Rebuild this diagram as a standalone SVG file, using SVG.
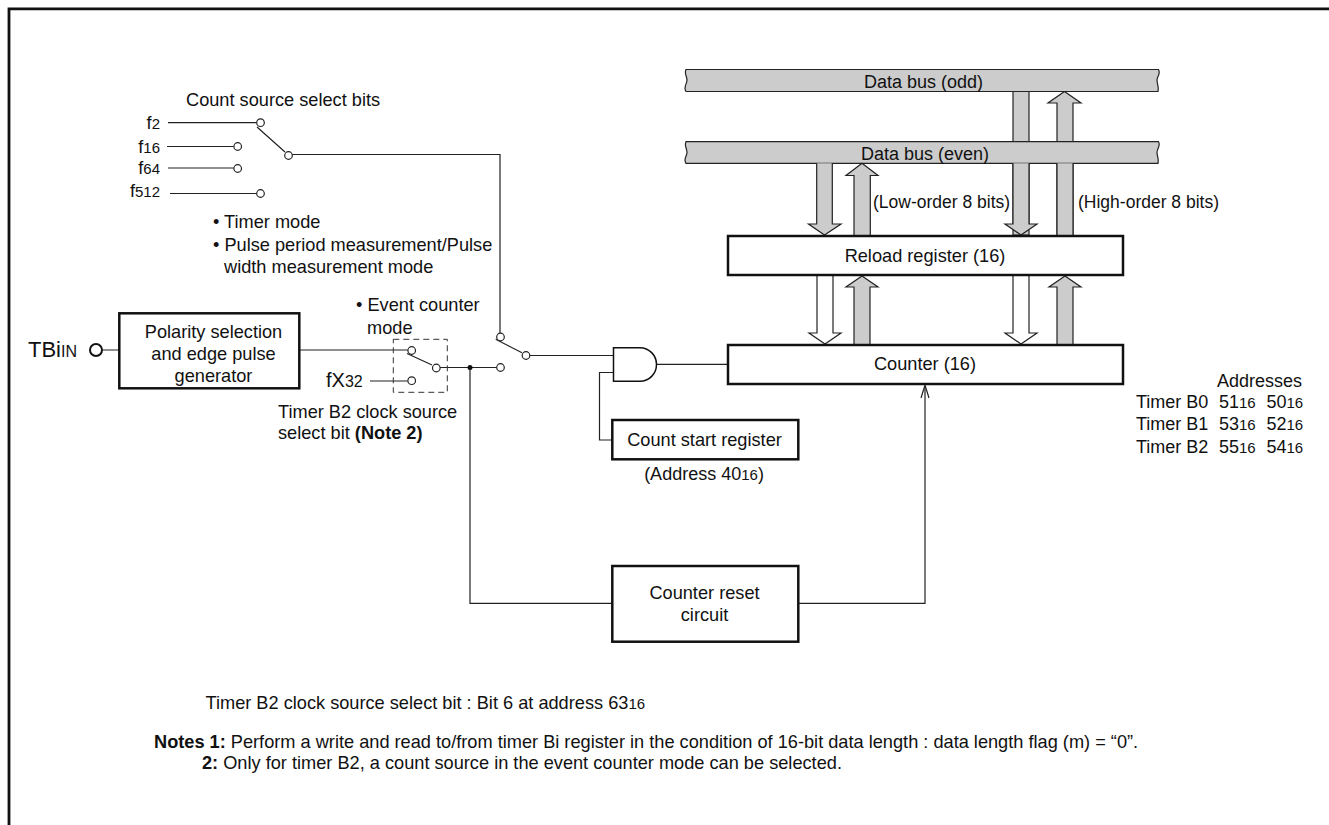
<svg xmlns="http://www.w3.org/2000/svg" width="1329" height="825" viewBox="0 0 1329 825">
<style>
text{font-family:"Liberation Sans",Arial,sans-serif;font-size:18.2px;fill:#111}
.s{font-size:15px}
.b{font-weight:bold}
.m{text-anchor:middle}
.e{text-anchor:end}
.n{font-size:17.5px}
.a{font-size:18px}
.w{fill:none;stroke:#222;stroke-width:1.2}
.box{fill:#fff;stroke:#111;stroke-width:2.5}
.c{fill:#fff;stroke:#222;stroke-width:1.2}
.g{fill:#ccc;stroke:#222;stroke-width:1.2}
.o{fill:#fff;stroke:#222;stroke-width:1.2}
</style>
<rect width="1329" height="825" fill="#fff"/>
<path id="frame" d="M9 825V8.800H1329" fill="none" stroke="#111" stroke-width="2.800"/>
<g id="connectors">
<path class="w" d="M168 122.700H256.500M257 127L285 152M292 154.500H500V333M167 146.500H233.700M168 168H233.700M170 193.500H256.500"/>
<path class="w" d="M103 350H119M299 350H407.700M407 353.500L432 365M440 367.500H496.500M370 381H407.700"/>
<path class="w" d="M495.700 339.300L522 352.700M530 355.500H613.500M656 364.300H728M613.500 372.500H599.500V440H612"/>
<path class="w" d="M470 367.500V603.300H612M798 603.300H925V386"/>
<path d="M921 398L925 385L929 398" fill="none" stroke="#222" stroke-width="1.200"/>
<circle cx="470" cy="367.500" r="2.500" fill="#111"/>
<rect x="393.300" y="339.300" width="54" height="53" fill="none" stroke="#333" stroke-width="1" stroke-dasharray="6 4"/>
<g class="c">
<circle cx="260.500" cy="122.700" r="3.800"/><circle cx="237.700" cy="146.500" r="3.800"/><circle cx="237.700" cy="168.500" r="3.800"/><circle cx="260.500" cy="193.500" r="3.800"/><circle cx="288.500" cy="155.500" r="3.800"/>
<circle cx="411.700" cy="350.500" r="3.800"/><circle cx="436.300" cy="368" r="3.800"/><circle cx="411.700" cy="380.700" r="3.800"/>
<circle cx="500.500" cy="337" r="3.800"/><circle cx="526" cy="355.500" r="3.800"/><circle cx="500.500" cy="367.500" r="3.800"/>
</g>
<circle cx="96" cy="350" r="6" fill="#fff" stroke="#111" stroke-width="2"/>
</g>
<g id="bus-arrows">
<path class="g" d="M1013 91.500V235H1029V91.500Z"/>
<path class="g" d="M1057 103H1048L1064.500 91.500L1081 103H1073V236H1057Z"/>
</g>
<g id="bus-odd">
<path class="g" d="M686 69.500H1158.500C1161 74 1157 76 1157 80C1157 84 1159 87 1158 91.500H686C683 87 687 84 687 80C687 76 684 74 686 69.500Z"/>
<text class="m a" x="923.500" y="87.500">Data bus (odd)</text>
</g>
<g id="bus-even">
<path class="g" d="M686 141.700H1158.500C1161 146 1157 148 1157 152.500C1157 156 1159 159 1158 163.300H686C683 159 687 156 687 152.500C687 148 684 146 686 141.700Z"/>
<text class="m a" x="925" y="160">Data bus (even)</text>
</g>
<g id="arrows">
<path class="g" d="M1013 163.300V224H1005L1021 235L1037 224H1029V163.300"/>
<path class="g" d="M1057 163.300V236H1073V163.300"/>
<path class="g" d="M816.700 163.300V224H808.500L824.500 235L841 224H832.300V163.300"/>
<path class="g" d="M854 236V175.500H846L862 163.300L878 175.500H870.300V236Z"/>
<path class="o" d="M817 276V333H809L825 344L841 333H833V276"/>
<path class="g" d="M854 345V287H846L862 276L878 287H870V345Z"/>
<path class="o" d="M1013 276V333H1005L1021 344L1037 333H1029V276"/>
<path class="g" d="M1057 345V287H1049L1065 276L1081 287H1073V345Z"/>
</g>
<g id="reload-register">
<rect class="box" x="728" y="236" width="395" height="39"/>
<text class="m" x="925" y="261.500">Reload register (16)</text>
</g>
<g id="counter">
<rect class="box" x="728" y="345" width="395" height="39"/>
<text class="m" x="925" y="370">Counter (16)</text>
</g>
<g id="and-gate">
<path d="M613.500 347.700H640A16.500 16.800 0 0 1 640 381.300H613.500Z" fill="#fff" stroke="#111" stroke-width="1.500"/>
</g>
<g id="count-start-register">
<rect class="box" x="612.300" y="420" width="186" height="39.300"/>
<text class="m" x="704.500" y="446">Count start register</text>
</g>
<g id="counter-reset-circuit">
<rect class="box" x="612.300" y="566" width="186" height="75.700"/>
<text class="m" x="704.500" y="599.300">Counter reset</text>
<text class="m" x="704.500" y="621">circuit</text>
</g>
<g id="polarity-selection">
<rect class="box" x="119.300" y="313.300" width="180" height="75"/>
<text class="m" x="213.500" y="338">Polarity selection</text>
<text class="m" x="213.500" y="360">and edge pulse</text>
<text class="m" x="213.500" y="381.700">generator</text>
</g>
<g id="labels">
<text x="186" y="105.700">Count source select bits</text>
<text class="e" x="160" y="129">f<tspan class="s">2</tspan></text>
<text class="e" x="160" y="152.700">f<tspan class="s">16</tspan></text>
<text class="e" x="160" y="174">f<tspan class="s">64</tspan></text>
<text class="e" x="160" y="197">f<tspan class="s">512</tspan></text>
<text x="213" y="227.700">• Timer mode</text>
<text x="213" y="251">• Pulse period measurement/Pulse</text>
<text x="224" y="272.700">width measurement mode</text>
<text x="356" y="311">• Event counter</text>
<text x="367" y="334">mode</text>
<text x="28" y="357" style="font-size:22px">TBi<tspan style="font-size:16px">IN</tspan></text>
<text x="326" y="387" style="font-size:20px">fX<tspan class="s" style="font-size:16px">32</tspan></text>
<text x="278" y="417.700">Timer B2 clock source</text>
<text x="278" y="438.500">select bit <tspan class="b">(Note 2)</tspan></text>
<text class="m a" x="704" y="480">(Address 40<tspan class="s">16</tspan>)</text>
<text class="n" x="873" y="208">(Low-order 8 bits)</text>
<text class="n" x="1078" y="208">(High-order 8 bits)</text>
<text class="e a" x="1302" y="386.700">Addresses</text>
<text class="a" x="1136" y="408">Timer B0</text><text class="a" x="1219" y="408">51<tspan class="s">16</tspan></text><text class="a" x="1266.500" y="408">50<tspan class="s">16</tspan></text>
<text class="a" x="1136" y="430">Timer B1</text><text class="a" x="1219" y="430">53<tspan class="s">16</tspan></text><text class="a" x="1266.500" y="430">52<tspan class="s">16</tspan></text>
<text class="a" x="1136" y="452.500">Timer B2</text><text class="a" x="1219" y="452.500">55<tspan class="s">16</tspan></text><text class="a" x="1266.500" y="452.500">54<tspan class="s">16</tspan></text>
<text x="205.500" y="709">Timer B2 clock source select bit : Bit 6 at address 63<tspan class="s">16</tspan></text>
<text x="154" y="747.500"><tspan class="b">Notes 1:</tspan> Perform a write and read to/from timer Bi register in the condition of 16-bit data length : data length flag (m) = “0”.</text>
<text x="202" y="769"><tspan class="b">2:</tspan> Only for timer B2, a count source in the event counter mode can be selected.</text>
</g>
</svg>
